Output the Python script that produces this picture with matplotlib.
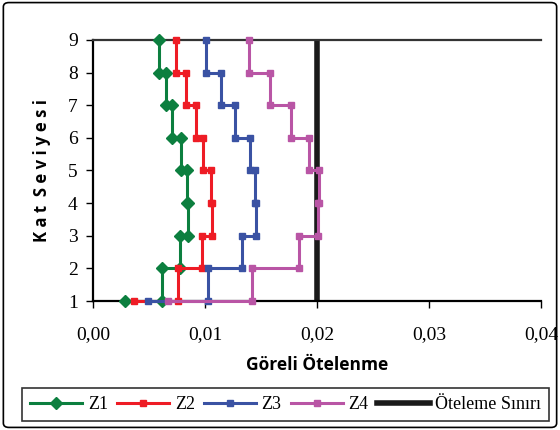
import numpy as np
import matplotlib
matplotlib.use("Agg")
import matplotlib.pyplot as plt
from matplotlib.patches import FancyBboxPatch

# story drift per level transition
levels = [1, 2, 3, 4, 5, 6, 7, 8, 9]
z1 = [0.0029, 0.0062, 0.0078, 0.0085, 0.0084, 0.0079, 0.0071, 0.0065, 0.0059]
z2 = [0.0037, 0.0076, 0.0097, 0.0106, 0.0105, 0.0098, 0.0092, 0.0083, 0.0074]
z3 = [0.0049, 0.0103, 0.0133, 0.0146, 0.0145, 0.0140, 0.0127, 0.0114, 0.0101]
z4 = [0.0067, 0.0142, 0.0184, 0.0201, 0.0202, 0.0193, 0.0177, 0.0158, 0.0139]
limit = 0.02
x_ticks = [0.00, 0.01, 0.02, 0.03, 0.04]
x_tick_labels = ["0,00", "0,01", "0,02", "0,03", "0,04"]


def step_points(vals, lv):
    """(a0,1),(a1,1),(a1,2),(a2,2),...,(a8,9)"""
    xs, ys = [vals[0]], [lv[0]]
    for i in range(1, len(vals)):
        xs += [vals[i], vals[i]]
        ys += [lv[i - 1], lv[i]]
    return xs, ys


fig = plt.figure(figsize=(5.6, 4.3), dpi=100)
ax = fig.add_axes([0.166, 0.30, 0.800, 0.607])

serif = "Liberation Serif"
sans = "Open Sans"

series = [
    ("Z1", z1, "#0c7f3f", "D", 6.5),
    ("Z2", z2, "#ee1c25", "s", 4.5),
    ("Z3", z3, "#3a52a3", "s", 4.5),
    ("Z4", z4, "#b955a5", "s", 4.5),
]
for name, vals, col, mk, ms in series:
    xs, ys = step_points(vals, levels)
    ax.plot(xs, ys, color=col, lw=2.2, marker=mk, markersize=ms, label=name,
            clip_on=False, zorder=3)

ax.plot([limit, limit], [levels[0], levels[-1]], color="#1a1a1a", lw=4,
        label="Öteleme Sınırı", zorder=2)

ax.set_xlim(0, 0.04)
ax.set_ylim(1, 9)
ax.set_xticks(x_ticks)
ax.set_xticklabels(x_tick_labels, fontfamily=serif, fontsize=14)
ax.set_yticks(levels)
ax.set_yticklabels([str(v) for v in levels], fontfamily=serif, fontsize=14)
ax.tick_params(axis="both", direction="out", length=5, width=1, pad=6)
ax.tick_params(axis="x", pad=13)

ax.spines["right"].set_visible(False)
ax.spines["left"].set_linewidth(1.6)
ax.spines["bottom"].set_linewidth(1.6)
ax.spines["top"].set_linewidth(1.6)
ax.spines["top"].set_color("#333333")

ax.set_xlabel("Göreli Ötelenme", fontfamily=sans, fontweight="bold",
              fontsize=12.5, labelpad=9)
ax.set_ylabel("K a t  S e v i y e s i", fontfamily=sans, fontweight="bold",
              fontsize=12, labelpad=12)

leg = fig.legend(loc="lower center", bbox_to_anchor=(0.51, 0.0), ncol=5,
                 frameon=True, fancybox=False, edgecolor="black",
                 prop={"family": serif, "size": 13}, handlelength=2.9,
                 handletextpad=0.3, columnspacing=0.5, borderpad=0.45)
leg.get_frame().set_linewidth(1.2)

border = FancyBboxPatch((0.006, 0.006), 0.988, 0.988, transform=fig.transFigure,
                        boxstyle="round,pad=0,rounding_size=0.01",
                        fill=False, edgecolor="black", lw=1.2)
fig.patches.append(border)

fig.savefig("out.png", dpi=100)
